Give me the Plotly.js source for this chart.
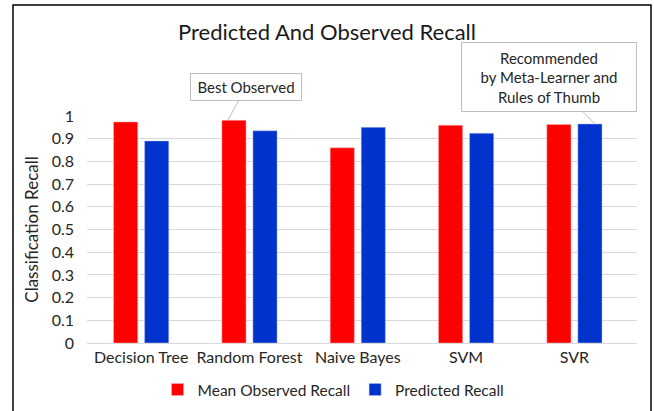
<!DOCTYPE html>
<html>
<head>
<meta charset="utf-8">
<script src="https://cdn.plot.ly/plotly-3.0.1.min.js"></script>
<style>html,body{margin:0;padding:0;background:#fff;}#chart{width:654px;height:411px;}</style>
</head>
<body>
<div id="chart"></div>
<script>
const categories = ["Decision Tree", "Random Forest", "Naive Bayes", "SVM", "SVR"];
const observedRecall = [0.974, 0.981, 0.860, 0.959, 0.963];
const predictedRecall = [0.890, 0.935, 0.950, 0.924, 0.965];
const seriesNames = ["Mean Observed Recall", "Predicted Recall"];

const FONT = "Lato, 'Open Sans', sans-serif";
const TXT = "#262626";

const traces = [
  {type: "bar", name: seriesNames[0], x: categories, y: observedRecall,
   marker: {color: "#ff0000", line: {color: "#ffb3b3", width: 0.5}}, hoverinfo: "x+y"},
  {type: "bar", name: seriesNames[1], x: categories, y: predictedRecall,
   marker: {color: "#0033cc", line: {color: "#b3c2f0", width: 0.5}}, hoverinfo: "x+y"}
];

const layout = {
  width: 654, height: 411,
  margin: {l: 87, r: 17, t: 116, b: 68, autoexpand: false},
  paper_bgcolor: "#fff", plot_bgcolor: "#fff",
  font: {family: FONT, color: TXT, size: 16},
  barmode: "group", bargap: 0.427, bargroupgap: 0.222,
  title: {text: "Predicted And Observed Recall", font: {family: FONT, size: 22, color: "#1a1a1a"},
          x: 0.5, xref: "container", xanchor: "center", y: 1 - 32/411, yref: "container", yanchor: "middle"},
  xaxis: {type: "category", automargin: false, showgrid: false, showline: true, linecolor: "#d9d9d9", linewidth: 1,
          ticks: "", tickfont: {family: FONT, size: 16, color: TXT}, fixedrange: true},
  yaxis: {range: [0, 1.0001], automargin: false, dtick: 0.1, tick0: 0, showgrid: true, gridcolor: "#d9d9d9", gridwidth: 1,
          zeroline: false, showline: false, ticks: "", ticklen: 0, ticklabelstandoff: 12,
          tickfont: {family: FONT, size: 16, color: TXT},
          title: {text: "Classification Recall", font: {family: FONT, size: 17, color: TXT}, standoff: 8},
          fixedrange: true},
  showlegend: true,
  legend: {orientation: "h", xref: "container", yref: "container", x: 0.51, xanchor: "center",
           y: 1 - 390/411, yanchor: "middle", font: {family: FONT, size: 15.5, color: TXT},
           itemwidth: 30, tracegroupgap: 0, traceorder: "normal"},
  annotations: [
    {x: 0.8, y: observedRecall[1], xref: "x", yref: "y", text: "Best Observed",
     showarrow: true, arrowhead: 0, arrowwidth: 1, arrowcolor: "#bfbfbf", ax: 18, ay: -33,
     bordercolor: "#bfbfbf", borderwidth: 1, borderpad: 3, bgcolor: "#fff",
     width: 104, height: 20, font: {family: FONT, size: 15, color: TXT}},
    {x: 4.19, y: predictedRecall[4], xref: "x", yref: "y",
     text: "Recommended<br>by Meta-Learner and<br>Rules of Thumb",
     showarrow: true, arrowhead: 0, arrowwidth: 1, arrowcolor: "#bfbfbf", ax: -46, ay: -47,
     bordercolor: "#bfbfbf", borderwidth: 1, borderpad: 3, bgcolor: "#fff",
     width: 168, height: 62, font: {family: FONT, size: 15, color: TXT}}
  ],
  shapes: [
    {type: "rect", xref: "paper", yref: "paper", x0: (13-87)/550, x1: (651-87)/550,
     y0: (343-425)/227, y1: (343-5)/227, line: {color: "#000", width: 1.5}, fillcolor: "rgba(0,0,0,0)", layer: "above"}
  ]
};

Plotly.newPlot("chart", traces, layout, {displayModeBar: false, staticPlot: true});
</script>
</body>
</html>
